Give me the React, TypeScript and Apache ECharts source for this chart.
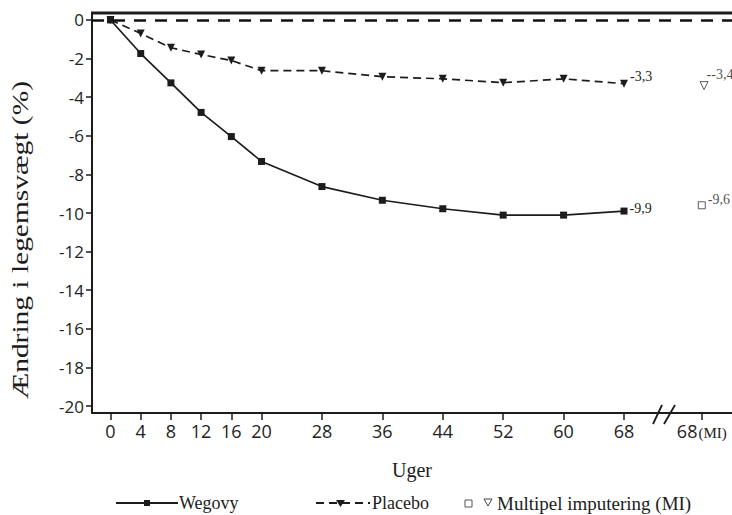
import React, { useEffect, useRef } from "react";
import * as echarts from "echarts";

const weeks = [0, 4, 8, 12, 16, 20, 28, 36, 44, 52, 60, 68];
const wegovy = [0, -1.74, -3.26, -4.79, -6.04, -7.33, -8.63, -9.34, -9.78, -10.11, -10.11, -9.9];
const placebo = [0, -0.7, -1.44, -1.79, -2.1, -2.63, -2.63, -2.94, -3.05, -3.25, -3.05, -3.3];
const miWeek = 78.3;
const wegovyMI = -9.6;
const placeboMI = -3.4;
const xTickValues = [0, 4, 8, 12, 16, 20, 28, 36, 44, 52, 60, 68, miWeek];
const yTickValues = [0, -2, -4, -6, -8, -10, -12, -14, -16, -18, -20];
const seriesNames = ["Wegovy", "Placebo", "Multipel imputering (MI)"];
const xTitle = "Uger";
const yTitle = "Ændring i legemsvægt (%)";

const SANS = "'Open Sans', 'DejaVu Sans', sans-serif";
const SERIF = "'Liberation Serif', 'Times New Roman', serif";
const INK = "#1c1c1c";

const fmt = (v: number) => v.toFixed(1).replace(".", ",");

function lastLabel(text: string, offset: number[]) {
  return {
    show: true,
    position: "right",
    distance: 2,
    offset,
    formatter: text,
    fontFamily: SERIF,
    fontSize: 14,
    color: INK,
  };
}

export default function App() {
  const ref = useRef<HTMLDivElement>(null);
  useEffect(() => {
    if (!ref.current) return;
    const chart = echarts.init(ref.current, null, { renderer: "svg" });
    const last = weeks.length - 1;
    const wData = weeks.map((w, i) =>
      i === last ? { value: [w, wegovy[i]], label: lastLabel(fmt(wegovy[i]), [0, -3]) } : [w, wegovy[i]]
    );
    const pData = weeks.map((w, i) =>
      i === last ? { value: [w, placebo[i]], label: lastLabel(fmt(placebo[i]), [0, -7]) } : [w, placebo[i]]
    );
    const option: any = {
      animation: false,
      grid: { left: 92, right: 0, top: 13, bottom: 102 },
      xAxis: {
        type: "value",
        min: -2.45,
        max: 82.3,
        axisLine: { show: true, onZero: false, lineStyle: { color: INK, width: 2 } },
        axisTick: { show: true, customValues: xTickValues, length: 7, lineStyle: { color: INK, width: 1.5 } },
        axisLabel: {
          customValues: xTickValues,
          margin: 9,
          fontFamily: SANS,
          fontSize: 18,
          color: "#222",
          formatter: (v: number) => (v > 70 ? "{a|68}{b|(MI)}" : String(v)),
          rich: {
            a: { fontFamily: SANS, fontSize: 18, color: "#222" },
            b: { fontFamily: SERIF, fontSize: 15, color: "#222", padding: [3, 0, 0, 1] },
          },
        },
        splitLine: { show: false },
        name: xTitle,
        nameLocation: "middle",
        nameGap: 47,
        nameTextStyle: { fontFamily: SERIF, fontSize: 20, color: INK },
      },
      yAxis: {
        type: "value",
        min: -20.36,
        max: 0.36,
        axisLine: { show: true, onZero: false, lineStyle: { color: INK, width: 2 } },
        axisTick: { show: true, customValues: yTickValues, length: 6, lineStyle: { color: INK, width: 1.5 } },
        axisLabel: {
          customValues: yTickValues,
          margin: 8,
          fontFamily: SANS,
          fontSize: 17,
          color: "#222",
        },
        splitLine: { show: false },
      },
      series: [
        {
          name: seriesNames[0],
          type: "line",
          data: wData,
          symbol: "rect",
          symbolSize: 7,
          itemStyle: { color: INK },
          lineStyle: { color: INK, width: 1.7 },
          z: 3,
          markLine: {
            silent: true,
            symbol: "none",
            label: { show: false },
            lineStyle: { color: "#111", width: 2.5, type: [12, 9] },
            data: [{ yAxis: 0 }],
          },
        },
        {
          name: seriesNames[1],
          type: "line",
          data: pData,
          symbol: "triangle",
          symbolRotate: 180,
          symbolSize: 8,
          itemStyle: { color: INK },
          lineStyle: { color: INK, width: 1.7, type: [8, 5] },
          z: 3,
        },
        {
          name: seriesNames[2],
          type: "scatter",
          symbol: "rect",
          symbolSize: 7,
          itemStyle: { color: "#fff", borderColor: "#333", borderWidth: 1 },
          data: [{ value: [miWeek, wegovyMI], label: lastLabel(fmt(wegovyMI), [0, -6]) }],
        },
        {
          name: seriesNames[2],
          type: "scatter",
          symbol: "triangle",
          symbolRotate: 180,
          symbolSize: 8,
          itemStyle: { color: "#fff", borderColor: "#333", borderWidth: 1 },
          data: [{ value: [miWeek + 0.3, placeboMI], label: lastLabel("-" + fmt(placeboMI), [-4, -11]) }],
        },
      ],
      graphic: [
        { type: "line", shape: { x1: 91, y1: 13, x2: 732, y2: 13 }, style: { stroke: INK, lineWidth: 2.8 } },
        { type: "line", shape: { x1: 653, y1: 424, x2: 662, y2: 405 }, style: { stroke: INK, lineWidth: 1.8 } },
        { type: "line", shape: { x1: 664, y1: 424, x2: 675, y2: 405 }, style: { stroke: INK, lineWidth: 1.8 } },
        {
          type: "text",
          x: 20,
          y: 240,
          rotation: Math.PI / 2,
          scaleX: 1.28,
          style: {
            text: yTitle,
            fontFamily: SERIF,
            fontSize: 23,
            fill: INK,
            align: "center",
            verticalAlign: "middle",
          },
        },
        // legend
        { type: "line", shape: { x1: 116, y1: 503, x2: 178, y2: 503 }, style: { stroke: INK, lineWidth: 2 } },
        { type: "rect", shape: { x: 144, y: 500, width: 6, height: 6 }, style: { fill: INK } },
        {
          type: "text",
          x: 179,
          y: 503,
          style: { text: seriesNames[0], fontFamily: SERIF, fontSize: 18, fill: INK, verticalAlign: "middle" },
        },
        {
          type: "line",
          shape: { x1: 316, y1: 503, x2: 370, y2: 503 },
          style: { stroke: INK, lineWidth: 2, lineDash: [8, 5] },
        },
        {
          type: "polygon",
          shape: { points: [[336, 500], [345, 500], [340.5, 507]] },
          style: { fill: INK },
        },
        {
          type: "text",
          x: 372,
          y: 503,
          style: { text: seriesNames[1], fontFamily: SERIF, fontSize: 18, fill: INK, verticalAlign: "middle" },
        },
        {
          type: "rect",
          shape: { x: 465, y: 500, width: 7, height: 7 },
          style: { fill: "#fff", stroke: "#555", lineWidth: 1 },
        },
        {
          type: "polygon",
          shape: { points: [[484, 499], [492, 499], [488, 506]] },
          style: { fill: "#fff", stroke: "#444", lineWidth: 1 },
        },
        {
          type: "text",
          x: 497,
          y: 503,
          style: { text: seriesNames[2], fontFamily: SERIF, fontSize: 19, fill: INK, verticalAlign: "middle" },
        },
      ],
    };
    chart.setOption(option);
    return () => chart.dispose();
  }, []);
  return (
    <div
      ref={ref}
      style={{ position: "absolute", left: 0, top: 0, width: 732, height: 515, background: "#fff" }}
    />
  );
}
